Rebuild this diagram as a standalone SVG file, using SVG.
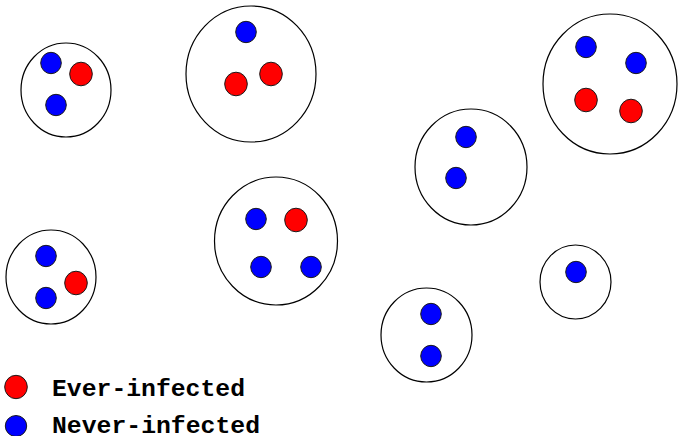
<svg xmlns="http://www.w3.org/2000/svg" width="678" height="436" viewBox="0 0 678 436">
  <style>
    .house { fill: #ffffff; stroke: #000000; stroke-width: 1.2; }
    .ever { fill: #ff0000; stroke: #1a1a1a; stroke-width: 1; }
    .never { fill: #0000ff; stroke: #1a1a1a; stroke-width: 1; }
    .label { font-family: "Liberation Mono", "Courier New", monospace; font-weight: bold; font-size: 23px; fill: #000000; }
  </style>
  <rect width="678" height="436" fill="#ffffff"/>

  <!-- households -->
  <g id="household-1">
    <ellipse class="house" cx="66" cy="90" rx="45" ry="47"/>
    <ellipse class="never" cx="51" cy="63" rx="10.3" ry="10.7"/>
    <ellipse class="ever" cx="81" cy="74" rx="11.3" ry="11.8"/>
    <ellipse class="never" cx="56" cy="105" rx="10.3" ry="10.7"/>
  </g>
  <g id="household-2">
    <ellipse class="house" cx="251" cy="74" rx="65" ry="68"/>
    <ellipse class="never" cx="246" cy="32" rx="10.3" ry="10.7"/>
    <ellipse class="ever" cx="236" cy="84" rx="11.3" ry="11.8"/>
    <ellipse class="ever" cx="271" cy="74" rx="11.3" ry="11.8"/>
  </g>
  <g id="household-3">
    <ellipse class="house" cx="610" cy="84" rx="67" ry="70"/>
    <ellipse class="never" cx="586" cy="47" rx="10.3" ry="10.7"/>
    <ellipse class="never" cx="636" cy="63" rx="10.3" ry="10.7"/>
    <ellipse class="ever" cx="586" cy="100" rx="11.3" ry="11.8"/>
    <ellipse class="ever" cx="631" cy="111" rx="11.3" ry="11.8"/>
  </g>
  <g id="household-4">
    <ellipse class="house" cx="471" cy="167" rx="56" ry="58"/>
    <ellipse class="never" cx="466" cy="137" rx="10.3" ry="10.7"/>
    <ellipse class="never" cx="456" cy="178" rx="10.3" ry="10.7"/>
  </g>
  <g id="household-5">
    <ellipse class="house" cx="51" cy="277" rx="45" ry="47"/>
    <ellipse class="never" cx="46" cy="256" rx="10.3" ry="10.7"/>
    <ellipse class="ever" cx="76" cy="283" rx="11.3" ry="11.8"/>
    <ellipse class="never" cx="46" cy="298" rx="10.3" ry="10.7"/>
  </g>
  <g id="household-6">
    <ellipse class="house" cx="276" cy="241" rx="61.5" ry="64"/>
    <ellipse class="never" cx="256" cy="219" rx="10.3" ry="10.7"/>
    <ellipse class="ever" cx="296" cy="220" rx="11.3" ry="11.8"/>
    <ellipse class="never" cx="261" cy="267" rx="10.3" ry="10.7"/>
    <ellipse class="never" cx="311" cy="267" rx="10.3" ry="10.7"/>
  </g>
  <g id="household-7">
    <ellipse class="house" cx="575.5" cy="282" rx="35.5" ry="37"/>
    <ellipse class="never" cx="576" cy="272" rx="10.3" ry="10.7"/>
  </g>
  <g id="household-8">
    <ellipse class="house" cx="426.5" cy="335" rx="45.5" ry="47"/>
    <ellipse class="never" cx="431" cy="314" rx="10.3" ry="10.7"/>
    <ellipse class="never" cx="431" cy="356" rx="10.3" ry="10.7"/>
  </g>

  <!-- no connectors in this figure -->
  <g id="connectors"/>

  <!-- legend -->
  <g id="legend">
    <ellipse class="ever" cx="16" cy="387" rx="11.3" ry="11.7"/>
    <text class="label" x="52" y="396" textLength="193" lengthAdjust="spacingAndGlyphs">Ever-infected</text>
    <ellipse class="never" cx="16" cy="426" rx="10.7" ry="10.5"/>
    <text class="label" x="52" y="433" textLength="208" lengthAdjust="spacingAndGlyphs">Never-infected</text>
  </g>
</svg>
